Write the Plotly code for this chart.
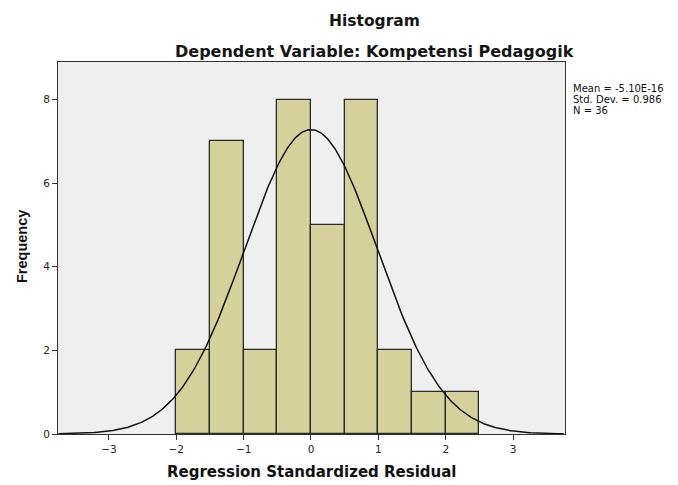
import numpy as np
import plotly.graph_objects as go

# Data
bin_left = [-2.0, -1.5, -1.0, -0.5, 0.0, 0.5, 1.0, 1.5, 2.0]
bin_width = 0.5
frequencies = [2, 7, 2, 8, 5, 8, 2, 1, 1]
mean_val = -5.10e-16
std_dev = 0.986
n_obs = 36
x_ticks = [-3, -2, -1, 0, 1, 2, 3]
y_ticks = [0, 2, 4, 6, 8]
stats_lines = ["Mean = -5.10E-16", "Std. Dev. = 0.986", "N = 36"]

bar_centers = [b + bin_width / 2 for b in bin_left]

xs = np.linspace(-3.75, 3.75, 400)
ys = n_obs * bin_width * np.exp(-0.5 * ((xs - mean_val) / std_dev) ** 2) / (std_dev * np.sqrt(2 * np.pi))

# page offset: browser default body margin of 8px
OFF = 8
W, H = 678 - OFF, 485 - OFF
L, T = 58 - OFF, 62 - OFF
R = 678 - 565
B = 485 - 434

fig = go.Figure()
fig.add_trace(go.Bar(
    x=bar_centers, y=frequencies, width=[bin_width] * len(frequencies),
    marker=dict(color="#d5d19b", line=dict(color="#2a2a2a", width=1.3)),
    showlegend=False, hoverinfo="skip"))
fig.add_trace(go.Scatter(
    x=xs, y=ys, mode="lines", line=dict(color="#111111", width=1.5),
    showlegend=False, hoverinfo="skip"))

axis_common = dict(showgrid=False, zeroline=False, showline=True, linecolor="#333333",
                   linewidth=1, mirror=True, ticks="outside", ticklen=5, tickcolor="#333333",
                   tickfont=dict(family="DejaVu Sans", size=10.5, color="#222222"))

plot_h = H - T - B
plot_w = W - L - R
def py(p):
    return (H - B - (p - OFF)) / plot_h
def px(p):
    return ((p - OFF) - L) / plot_w

annotations = [
    dict(text="<b>Histogram</b>", x=px(374.5), y=py(21), xref="paper", yref="paper",
         showarrow=False, yanchor="middle",
         font=dict(family="DejaVu Sans", size=15.5, color="#151515")),
    dict(text="<b>Dependent Variable: Kompetensi Pedagogik</b>", x=px(374), y=py(51.5),
         xref="paper", yref="paper", showarrow=False, yanchor="middle",
         font=dict(family="DejaVu Sans", size=16, color="#151515")),
    dict(text="<b>Regression Standardized Residual</b>", x=px(311.5), y=py(472),
         xref="paper", yref="paper", showarrow=False, yanchor="middle",
         font=dict(family="DejaVu Sans", size=15, color="#111111")),
    dict(text="<b>Frequency</b>", x=px(22), y=py(247), xref="paper", yref="paper",
         showarrow=False, textangle=-90, xanchor="center", yanchor="middle",
         font=dict(family="Liberation Sans, Arial", size=14.5, color="#111111")),
]
for i, line in enumerate(stats_lines):
    annotations.append(dict(text=line, x=px(571), y=py(88.5 + 11 * i), xref="paper",
                            yref="paper", showarrow=False, xanchor="left",
                            yanchor="middle", align="left",
                            font=dict(family="DejaVu Sans", size=10, color="#111111")))

fig.update_layout(
    width=W, height=H,
    margin=dict(l=L, r=R, t=T, b=B),
    paper_bgcolor="white", plot_bgcolor="#efefef",
    bargap=0,
    xaxis=dict(range=[-3.755, 3.77], tickvals=x_ticks, **axis_common),
    yaxis=dict(range=[0, 8.9], tickvals=y_ticks, **axis_common),
    font=dict(family="DejaVu Sans", color="#111111"),
    annotations=annotations,
)

fig.write_html("out.html")
